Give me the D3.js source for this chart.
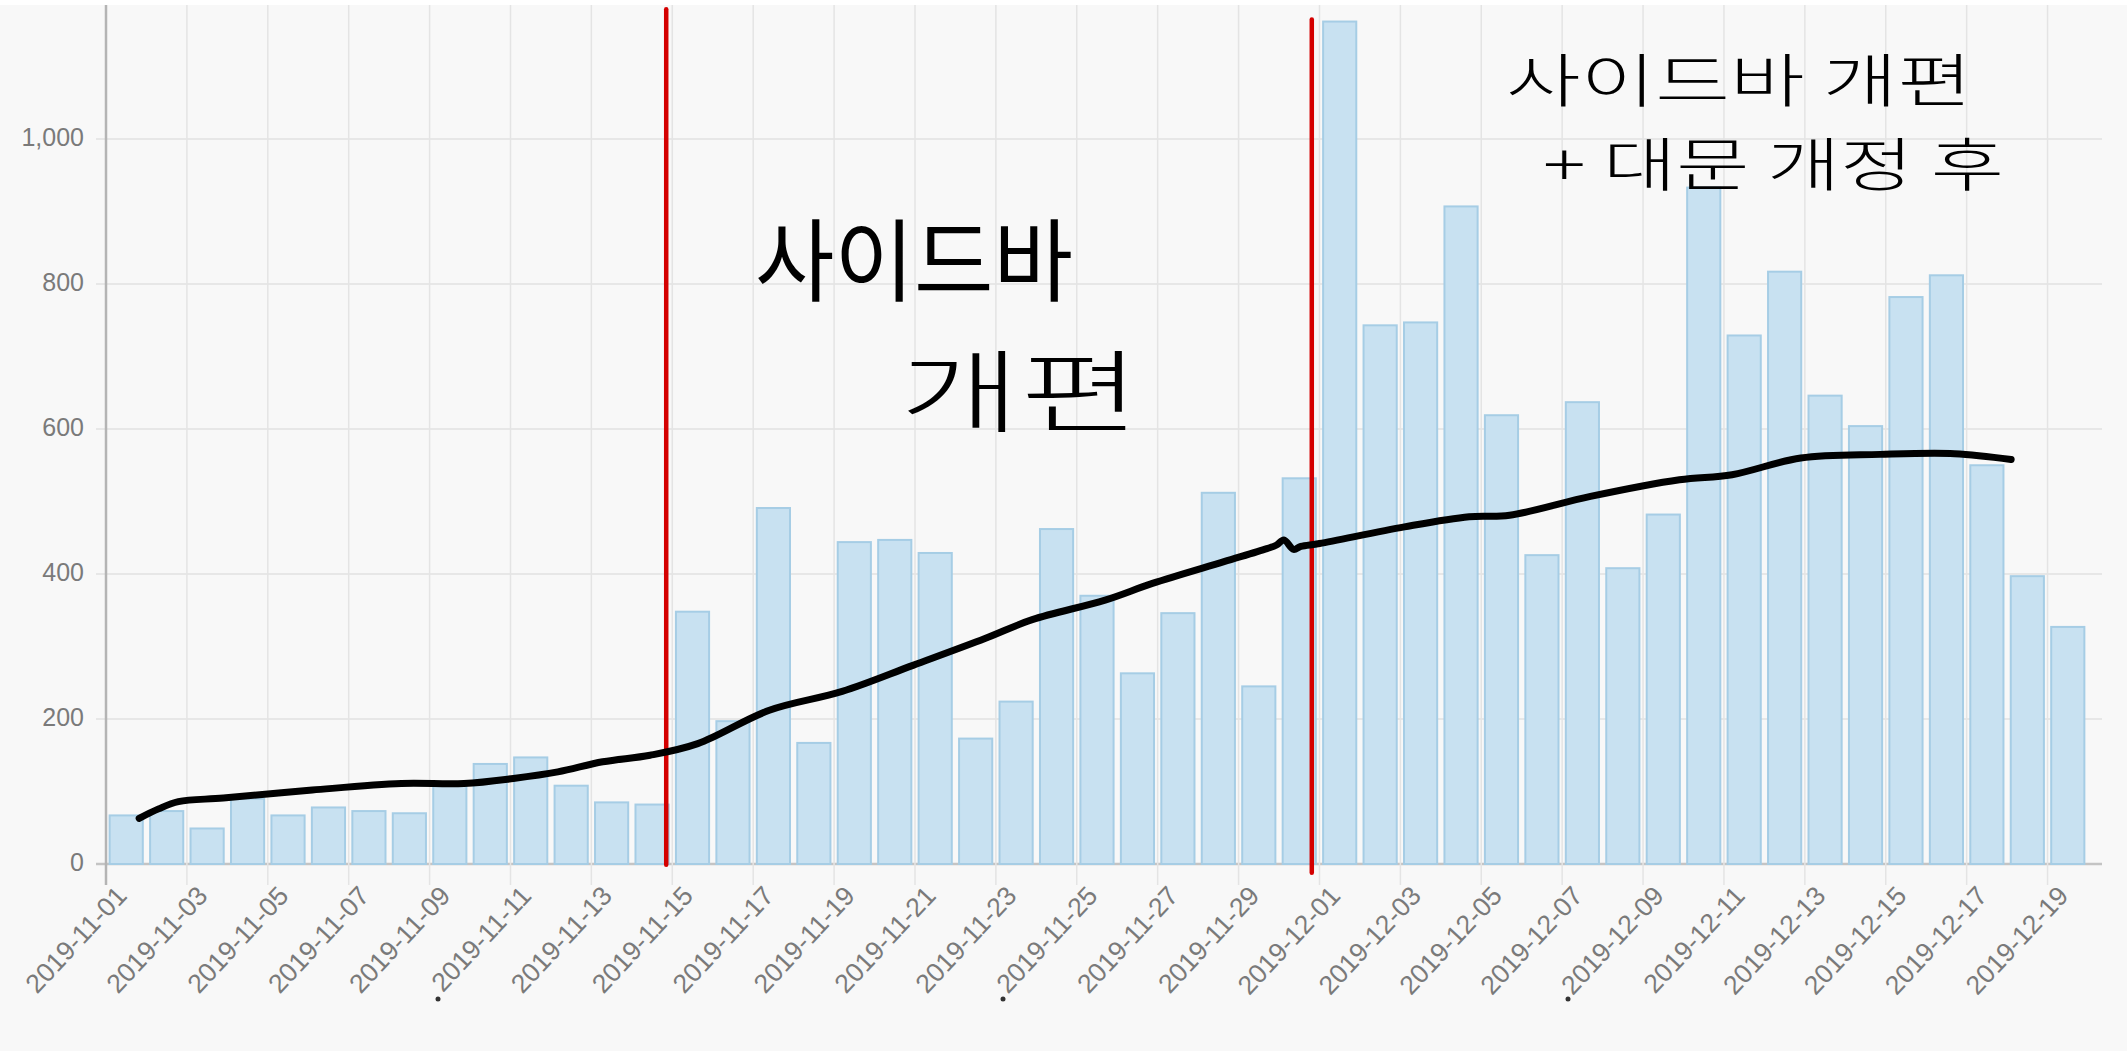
<!DOCTYPE html>
<html>
<head>
<meta charset="utf-8">
<script src="https://cdn.jsdelivr.net/npm/d3@7"></script>
<style>
  html, body { margin: 0; padding: 0; background: #f8f8f8; }
  svg { display: block; }
</style>
</head>
<body>
<script>
// daily visits, 2019-11-01 .. 2019-12-19
var dates = [
  '2019-11-01', '2019-11-02', '2019-11-03', '2019-11-04', '2019-11-05', '2019-11-06', '2019-11-07',
  '2019-11-08', '2019-11-09', '2019-11-10', '2019-11-11', '2019-11-12', '2019-11-13', '2019-11-14',
  '2019-11-15', '2019-11-16', '2019-11-17', '2019-11-18', '2019-11-19', '2019-11-20', '2019-11-21',
  '2019-11-22', '2019-11-23', '2019-11-24', '2019-11-25', '2019-11-26', '2019-11-27', '2019-11-28',
  '2019-11-29', '2019-11-30', '2019-12-01', '2019-12-02', '2019-12-03', '2019-12-04', '2019-12-05',
  '2019-12-06', '2019-12-07', '2019-12-08', '2019-12-09', '2019-12-10', '2019-12-11', '2019-12-12',
  '2019-12-13', '2019-12-14', '2019-12-15', '2019-12-16', '2019-12-17', '2019-12-18', '2019-12-19'
];

var visits = [
  67, 73, 49, 90, 67, 78, 73,
  70, 110, 138, 147, 108, 85, 82,
  348, 197, 491, 167, 444, 447, 429,
  173, 224, 462, 370, 263, 346, 512,
  245, 532, 1162, 743, 747, 907, 619,
  426, 637, 408, 482, 933, 729, 817,
  646, 604, 782, 812, 550, 397, 327
];

var yTicks = [ 0, 200, 400, 600, 800, 1000 ];

// hand drawn trend line (day position, value)
var trendDay = [
  0.82, 1.3, 1.79, 2.9, 5.1, 7.3, 8.85, 10.07, 11.17, 12.28, 13.45, 14.63, 16.4, 18.2,
  19.95, 21.73, 22.9, 24.7, 25.87, 27.64, 28.7, 28.94, 29.12, 29.36, 29.54, 30.0,
  32.1, 33.7, 34.7, 36.7, 38.9, 40.2, 41.9, 43.86, 45.7, 47.1
];
var trendValue = [
  63, 76, 86, 91, 102, 111, 111, 118, 127, 141, 150, 166, 212, 238,
  274, 311, 337, 364, 387, 417, 435, 440, 447, 434, 438, 442,
  465, 479, 481, 507, 530, 537, 560, 565, 566, 558
];

// red marker lines (day position, top value, bottom value)
var markerDay = [ 13.85, 29.81 ];
var markerTop = [ 1179, 1165 ];
var markerBottom = [ -1, -12 ];

var notes = [
  { lines: [ '사이드바', '개편' ], x: [ 755, 900 ], y: [ 294, 425 ], len: [ 318, 240 ], weight: [ 400, 300 ], size: 90 },
  { lines: [ '사이드바 개편', '+ 대문 개정 후' ], x: [ 1506, 1543 ], y: [ 102, 186 ], len: [ 466, 461 ], weight: [ 300, 300 ], size: 58 }
];

var W = 2127, H = 1051;
var left = 106, bandRight = 2088, axisRight = 2102, zeroY = 864;

var svg = d3.select( 'body' ).append( 'svg' )
  .attr( 'width', W )
  .attr( 'height', H );

svg.append( 'rect' )
  .attr( 'width', W ).attr( 'height', H )
  .attr( 'fill', '#f8f8f8' );
svg.append( 'rect' )
  .attr( 'width', W ).attr( 'height', 5 )
  .attr( 'fill', '#ffffff' );

var x = d3.scaleBand()
  .domain( dates )
  .range( [ left, bandRight ] );

var xDay = d3.scaleLinear()
  .domain( [ 0, dates.length ] )
  .range( [ left, bandRight ] );

var y = d3.scaleLinear()
  .domain( [ 0, 1200 ] )
  .range( [ zeroY, -6 ] );

var bw = x.bandwidth();

// horizontal grid
svg.selectAll( 'line.hgrid' )
  .data( yTicks )
  .enter().append( 'line' )
  .attr( 'class', 'hgrid' )
  .attr( 'x1', left - 10 )
  .attr( 'x2', axisRight )
  .attr( 'y1', function ( d ) { return y( d ); } )
  .attr( 'y2', function ( d ) { return y( d ); } )
  .attr( 'stroke', function ( d ) { return d === 0 ? '#c4c4c4' : '#e2e2e2'; } )
  .attr( 'stroke-width', function ( d ) { return d === 0 ? 2.5 : 1.5; } );

// vertical grid, every second day
var shown = dates.filter( function ( d, i ) { return i % 2 === 0; } );

svg.selectAll( 'line.vgrid' )
  .data( shown )
  .enter().append( 'line' )
  .attr( 'class', 'vgrid' )
  .attr( 'x1', function ( d ) { return x( d ); } )
  .attr( 'x2', function ( d ) { return x( d ); } )
  .attr( 'y1', 5 )
  .attr( 'y2', zeroY + 21 )
  .attr( 'stroke', function ( d, i ) { return i === 0 ? '#b4b4b4' : '#e4e4e4'; } )
  .attr( 'stroke-width', function ( d, i ) { return i === 0 ? 2.5 : 1.5; } );

// y labels
svg.selectAll( 'text.ylab' )
  .data( yTicks )
  .enter().append( 'text' )
  .attr( 'class', 'ylab' )
  .attr( 'x', left - 22 )
  .attr( 'y', function ( d ) { return y( d ) - 2; } )
  .attr( 'text-anchor', 'end' )
  .attr( 'dominant-baseline', 'central' )
  .attr( 'font-family', 'Liberation Sans, Arial, sans-serif' )
  .attr( 'font-size', 25 )
  .attr( 'fill', '#7a7a7a' )
  .text( d3.format( ',' ) );

// bars
svg.selectAll( 'rect.bar' )
  .data( visits )
  .enter().append( 'rect' )
  .attr( 'class', 'bar' )
  .attr( 'x', function ( d, i ) { return x( dates[ i ] ) + bw * 0.09; } )
  .attr( 'width', bw * 0.82 )
  .attr( 'y', function ( d ) { return y( d ); } )
  .attr( 'height', function ( d ) { return zeroY - y( d ); } )
  .attr( 'fill', '#c8e1f1' )
  .attr( 'stroke', '#a6cde5' )
  .attr( 'stroke-width', 2 );

// x labels
svg.selectAll( 'text.xlab' )
  .data( shown )
  .enter().append( 'text' )
  .attr( 'class', 'xlab' )
  .attr( 'transform', function ( d ) {
    return 'translate(' + ( x( d ) + bw / 2 + 2 ) + ',' + ( zeroY + 33 ) + ') rotate(-47)';
  } )
  .attr( 'text-anchor', 'end' )
  .attr( 'font-family', 'Liberation Sans, Arial, sans-serif' )
  .attr( 'font-size', 26.5 )
  .attr( 'fill', '#7a7a7a' )
  .text( function ( d ) { return d; } );

// red marker lines
svg.selectAll( 'line.marker' )
  .data( markerDay )
  .enter().append( 'line' )
  .attr( 'class', 'marker' )
  .attr( 'x1', function ( d ) { return xDay( d ); } )
  .attr( 'x2', function ( d ) { return xDay( d ); } )
  .attr( 'y1', function ( d, i ) { return y( markerTop[ i ] ); } )
  .attr( 'y2', function ( d, i ) { return y( markerBottom[ i ] ); } )
  .attr( 'stroke', '#d40000' )
  .attr( 'stroke-width', 4.5 )
  .attr( 'stroke-linecap', 'round' );

// trend line
var trendLine = d3.line()
  .x( function ( d, i ) { return xDay( trendDay[ i ] ); } )
  .y( function ( d ) { return y( d ); } )
  .curve( d3.curveCatmullRom );

svg.append( 'path' )
  .attr( 'd', trendLine( trendValue ) )
  .attr( 'fill', 'none' )
  .attr( 'stroke', '#000' )
  .attr( 'stroke-width', 7 )
  .attr( 'stroke-linecap', 'round' )
  .attr( 'stroke-linejoin', 'round' );

// handwritten notes
notes.forEach( function ( n ) {
  n.lines.forEach( function ( t, j ) {
    svg.append( 'text' )
      .attr( 'x', n.x[ j ] )
      .attr( 'y', n.y[ j ] )
      .attr( 'textLength', n.len[ j ] )
      .attr( 'lengthAdjust', 'spacingAndGlyphs' )
      .attr( 'font-family', 'Noto Sans CJK KR, sans-serif' )
      .attr( 'font-weight', n.weight[ j ] )
      .attr( 'font-size', n.size )
      .attr( 'fill', '#000' )
      .text( t );
  } );
} );

// stray pen dots under the labels
svg.selectAll( 'circle.dot' )
  .data( [ 438, 1003, 1568 ] )
  .enter().append( 'circle' )
  .attr( 'class', 'dot' )
  .attr( 'cx', function ( d ) { return d; } )
  .attr( 'cy', 999 )
  .attr( 'r', 2.5 )
  .attr( 'fill', '#333' );
</script>
</body>
</html>
